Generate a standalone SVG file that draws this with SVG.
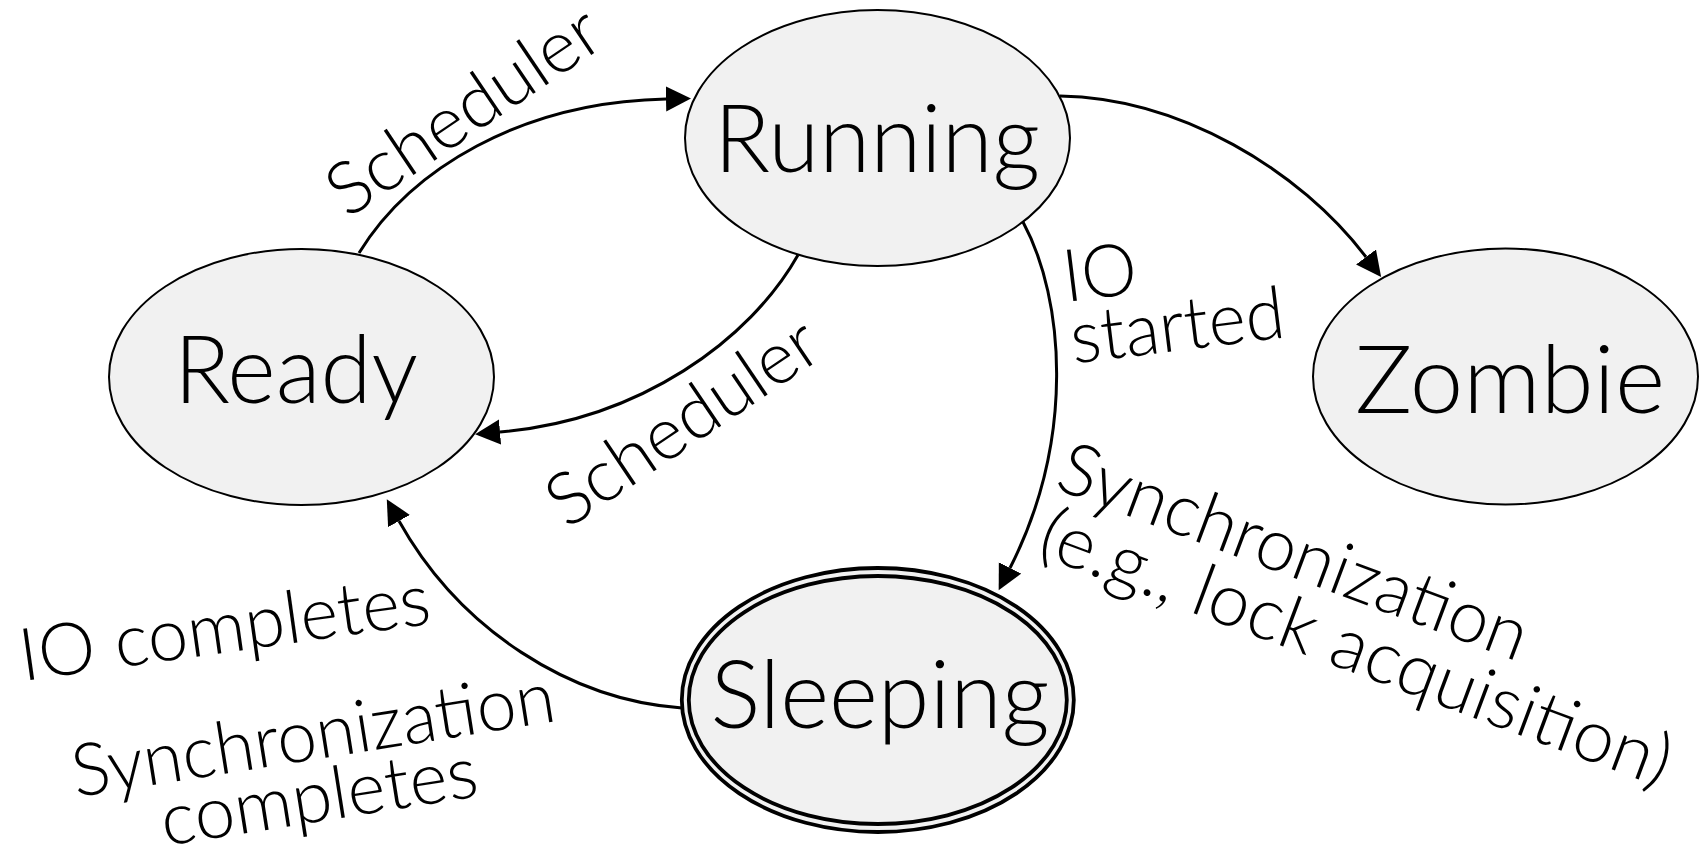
<svg xmlns="http://www.w3.org/2000/svg" width="1703" height="846" viewBox="0 0 1703 846">
  <style>
    .node { fill: #f1f1f1; stroke: #000; stroke-width: 2; }
    .ring { fill: none; stroke: #000; stroke-width: 3.8; }
    .nlabel { font-family: Lato, "Open Sans", "Liberation Sans", sans-serif; font-weight: 300; font-size: 94px; fill: #000; text-anchor: middle; }
    .elabel { font-family: Lato, "Open Sans", "Liberation Sans", sans-serif; font-weight: 300; font-size: 73px; fill: #000; }
    .edge { fill: none; stroke: #000; stroke-width: 3; marker-end: url(#arrow); }
  </style>
  <defs>
    <marker id="arrow" markerUnits="userSpaceOnUse" markerWidth="26" markerHeight="26" refX="0" refY="12.5" orient="auto">
      <path d="M0,0 L25,12.5 L0,25 Z" fill="#000"/>
    </marker>
  </defs>
  <rect width="1703" height="846" fill="#fff"/>

  <!-- state machine transitions -->
  <g id="edges">
    <path class="edge" d="M359,253 C410,170 520,102 666,99"/>
    <path class="edge" d="M798,255 C750,340 640,420 500,432"/>
    <path class="edge" d="M1060,96 C1180,98 1300,170 1366,257"/>
    <path class="edge" d="M1023,222 C1065,300 1075,440 1010,568"/>
    <path class="edge" d="M682,708 C570,700 460,630 399,521"/>
  </g>

  <!-- transition labels -->
  <g id="edge-labels">
    <text class="elabel" text-anchor="middle" transform="translate(463,110) rotate(-34)" x="0" y="26" textLength="314" lengthAdjust="spacingAndGlyphs">Scheduler</text>
    <text class="elabel" text-anchor="middle" transform="translate(682,421) rotate(-34)" x="0" y="26" textLength="312" lengthAdjust="spacingAndGlyphs">Scheduler</text>
    <g transform="translate(1066,302) rotate(-7)">
      <text class="elabel" x="0" y="0" textLength="74" lengthAdjust="spacingAndGlyphs">IO</text>
      <text class="elabel" x="0" y="62" textLength="215" lengthAdjust="spacingAndGlyphs">started</text>
    </g>
    <g transform="translate(1053,488) rotate(20.5)">
      <text class="elabel" x="0" y="0" textLength="496" lengthAdjust="spacingAndGlyphs">Synchronization</text>
      <text class="elabel" x="6" y="68" textLength="668" lengthAdjust="spacingAndGlyphs">(e.g., lock acquisition)</text>
    </g>
    <text class="elabel" transform="translate(23,681) rotate(-8)" x="0" y="0" textLength="414" lengthAdjust="spacingAndGlyphs">IO completes</text>
    <g transform="translate(78,797) rotate(-9)">
      <text class="elabel" text-anchor="middle" x="242" y="0" textLength="488" lengthAdjust="spacingAndGlyphs">Synchronization</text>
      <text class="elabel" text-anchor="middle" x="238" y="62" textLength="320" lengthAdjust="spacingAndGlyphs">completes</text>
    </g>
  </g>

  <g id="node-running">
    <ellipse class="node" cx="877.5" cy="138" rx="192.5" ry="128"/>
    <text class="nlabel" x="877" y="172" textLength="326" lengthAdjust="spacingAndGlyphs">Running</text>
  </g>
  <g id="node-ready">
    <ellipse class="node" cx="301.5" cy="377" rx="192.5" ry="128"/>
    <text class="nlabel" x="296" y="403" textLength="244" lengthAdjust="spacingAndGlyphs">Ready</text>
  </g>
  <g id="node-zombie">
    <ellipse class="node" cx="1505.5" cy="376.5" rx="192.5" ry="128"/>
    <text class="nlabel" x="1510" y="413" textLength="310" lengthAdjust="spacingAndGlyphs">Zombie</text>
  </g>
  <g id="node-sleeping">
    <ellipse cx="877.8" cy="700" rx="196" ry="132" fill="#f1f1f1"/>
    <ellipse class="ring" cx="877.8" cy="700" rx="196" ry="132"/>
    <ellipse class="ring" cx="877.8" cy="700" rx="189" ry="124"/>
    <text class="nlabel" x="880" y="728" textLength="339" lengthAdjust="spacingAndGlyphs">Sleeping</text>
  </g>
</svg>
